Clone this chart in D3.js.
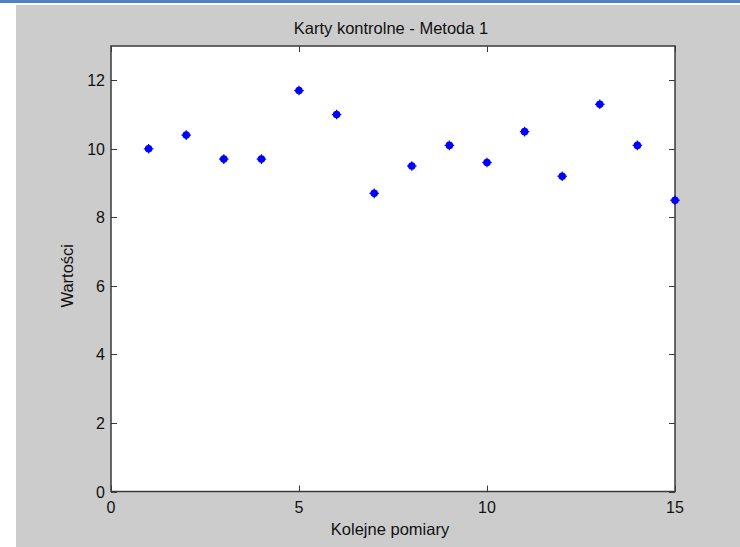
<!DOCTYPE html>
<html>
<head>
<meta charset="utf-8">
<script src="https://cdn.jsdelivr.net/npm/d3@7"></script>
<style>
  html, body { margin: 0; padding: 0; background: #ffffff; }
  svg { display: block; }
  text { font-family: "Liberation Sans", Arial, Helvetica, sans-serif; fill: #111; }
</style>
</head>
<body>
<svg id="chart" width="740" height="547"></svg>
<script>
// Measurement data
const pomiary = [1, 2, 3, 4, 5, 6, 7, 8, 9, 10, 11, 12, 13, 14, 15];
const wartosci = [10.0, 10.4, 9.7, 9.7, 11.7, 11.0, 8.7, 9.5, 10.1, 9.6, 10.5, 9.2, 11.3, 10.1, 8.5];
const xTicks = [0, 5, 10, 15];
const yTicks = [0, 2, 4, 6, 8, 10, 12];

const title = "Karty kontrolne - Metoda 1";
const xLabel = "Kolejne pomiary";
const yLabel = "Wartości";

const svg = d3.select("#chart");

// page frame: blue rule on top, grey figure background
svg.append("rect").attr("x", 0).attr("y", 0).attr("width", 740).attr("height", 3).attr("fill", "#4f81bd");
svg.append("rect").attr("x", 16).attr("y", 5).attr("width", 724).attr("height", 542).attr("fill", "#cccccc");

const m = { left: 111, right: 675, top: 46, bottom: 491.5 };
const x = d3.scaleLinear().domain([0, 15]).range([m.left, m.right]);
const y = d3.scaleLinear().domain([0, 13]).range([m.bottom, m.top]);

// axes background
svg.append("rect")
  .attr("x", m.left).attr("y", m.top)
  .attr("width", m.right - m.left).attr("height", m.bottom - m.top)
  .attr("fill", "#ffffff");

const tickLen = 6;
const axisColor = "#3a3a3a";

// inward ticks on all four sides
const g = svg.append("g").attr("stroke", axisColor).attr("stroke-width", 1);
xTicks.forEach(t => {
  const px = Math.round(x(t)) + 0.5;
  g.append("line").attr("x1", px).attr("x2", px).attr("y1", m.bottom).attr("y2", m.bottom - tickLen);
  g.append("line").attr("x1", px).attr("x2", px).attr("y1", m.top).attr("y2", m.top + tickLen);
});
yTicks.forEach(t => {
  const py = Math.round(y(t)) + 0.5;
  g.append("line").attr("x1", m.left).attr("x2", m.left + tickLen).attr("y1", py).attr("y2", py);
  g.append("line").attr("x1", m.right).attr("x2", m.right - tickLen).attr("y1", py).attr("y2", py);
});

// box
svg.append("rect")
  .attr("x", m.left).attr("y", m.top)
  .attr("width", m.right - m.left).attr("height", m.bottom - m.top)
  .attr("fill", "none").attr("stroke", axisColor).attr("stroke-width", 1.5);

// tick labels
svg.append("g").selectAll("text").data(xTicks).join("text")
  .attr("x", d => x(d)).attr("y", m.bottom + 21)
  .attr("text-anchor", "middle").attr("font-size", 16)
  .text(d => d);
svg.append("g").selectAll("text").data(yTicks).join("text")
  .attr("x", m.left - 6).attr("y", d => y(d) + 6)
  .attr("text-anchor", "end").attr("font-size", 16)
  .text(d => d);

// title and axis labels
svg.append("text").attr("x", (m.left + m.right) / 2 - 2).attr("y", 34)
  .attr("text-anchor", "middle").attr("font-size", 16.5).text(title);
svg.append("text").attr("x", (m.left + m.right) / 2 - 3).attr("y", 535)
  .attr("text-anchor", "middle").attr("font-size", 16.5).text(xLabel);
svg.append("text")
  .attr("transform", `translate(73, ${(m.top + m.bottom) / 2 + 7}) rotate(-90)`)
  .attr("text-anchor", "middle").attr("font-size", 16.5).text(yLabel);

// data markers
const pts = svg.append("g").attr("fill", "#0000ff").attr("stroke", "#0000ff");
pomiary.forEach((p, i) => {
  const cx = x(p), cy = y(wartosci[i]);
  pts.append("circle").attr("cx", cx).attr("cy", cy).attr("r", 3.8).attr("stroke", "none");
  pts.append("line").attr("x1", cx - 4.8).attr("x2", cx + 4.8).attr("y1", cy).attr("y2", cy).attr("stroke-width", 1.2);
  pts.append("line").attr("x1", cx).attr("x2", cx).attr("y1", cy - 4.8).attr("y2", cy + 4.8).attr("stroke-width", 1.2);
});
</script>
</body>
</html>
